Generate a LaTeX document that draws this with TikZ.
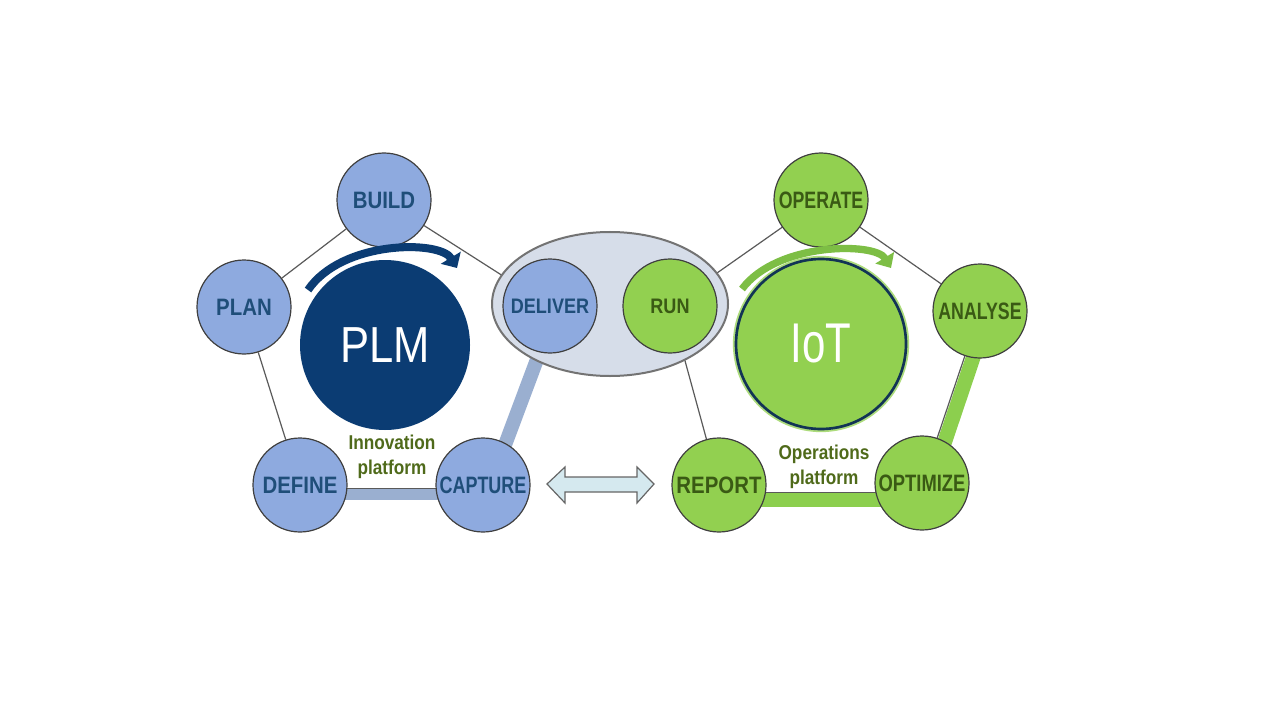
\documentclass[tikz,border=0pt]{standalone}
\usepackage{fontspec}
\setmainfont{Liberation Sans}
\newfontfamily\nar[FakeStretch=0.86]{Liberation Sans}
\usetikzlibrary{shapes.geometric,calc,backgrounds,arrows.meta}
\definecolor{bfill}{HTML}{8EAADF}
\definecolor{btext}{HTML}{1F4E79}
\definecolor{gfill}{HTML}{92D050}
\definecolor{gtext}{HTML}{3A5A14}
\definecolor{olive}{HTML}{4F6A1A}
\definecolor{cline}{HTML}{404040}
\definecolor{lgray}{HTML}{5A5A5A}
\definecolor{navy}{HTML}{0B3C73}
\definecolor{navyd}{HTML}{123455}
\definecolor{bband}{HTML}{9AAFD0}
\definecolor{gband}{HTML}{8CCF4E}
\definecolor{grpfill}{HTML}{D6DDE9}
\definecolor{arrg}{HTML}{7DBE45}
\definecolor{dblfill}{HTML}{D5E9EF}
\begin{document}
\begin{tikzpicture}[x=0.75pt,y=-0.75pt,
  basecirc/.style={circle, draw=cline, line width=0.9pt, minimum size=70.5pt, inner sep=0pt,
    font=\nar\bfseries\fontsize{17.8}{20}\selectfont},
  bcirc/.style={basecirc, fill=bfill, text=btext},
  gcirc/.style={basecirc, fill=gfill, text=gtext},
  smallfont/.style={font=\nar\bfseries\fontsize{15.75}{18}\selectfont},
  thinline/.style={draw=lgray, line width=0.9pt},
  bbandline/.style={draw=bband, line width=9.5pt},
  gbandline/.style={draw=gband, line width=11pt},
  platform/.style={align=center, text=olive, font=\nar\bfseries\fontsize{15}{18.75}\selectfont},
  bigcirc/.style={circle, inner sep=0pt, minimum size=127.5pt, text=white}
]
\useasboundingbox (0,0) rectangle (1280,720);

% group ellipse
\node[ellipse, draw=gray!90!black, line width=1.5pt, fill=grpfill, minimum width=177pt, minimum height=108pt] (grp) at (610,304) {};

% PLM side
\node[bcirc] (build) at (384,200) {BUILD};
\node[bcirc] (plan) at (244,307) {PLAN};
\node[bcirc] (define) at (300,485) {DEFINE};
\node[bcirc] (capture) at (483,485) {\scalebox{0.88}[1]{CAPTURE}};
\node[bcirc, smallfont] (deliver) at (550,306) {DELIVER};
\node[bigcirc, fill=navy, font=\nar\fontsize{38}{40}\selectfont] (plm) at (385,345) {PLM};

% IoT side
\node[gcirc, smallfont] (run) at (670,306) {RUN};
\node[gcirc] (report) at (719,485) {REPORT};
\node[gcirc] (operate) at (821,200) {\scalebox{0.87}[1]{OPERATE}};
\node[gcirc] (analyse) at (980,311) {\scalebox{0.87}[1]{ANALYSE}};
\node[gcirc] (optimize) at (922,483) {\scalebox{0.9}[1]{OPTIMIZE}};
\draw[gfill!75!white, line width=1.6pt] (821,344) circle[radius=65.3pt];
\node[bigcirc, fill=gfill, draw=navyd, line width=2pt, font=\fontsize{42}{44}\selectfont] (iot) at (821,344) {\scalebox{0.75}[1]{IoT}};

% platform labels
\node[platform] (innov) at (392,457) {Innovation\\platform};
\node[platform] (oper) at (824,467) {Operations\\platform};

% connectors on background
\begin{scope}[on background layer]
  \fill[white] (0,0) rectangle (1280,720);
  \draw[thinline] (build) -- (plan);
  \draw[thinline] (build) -- (deliver);
  \draw[thinline] (plan) -- (define);
  \draw[bbandline] ($(define)+(0,9)$) -- ($(capture)+(0,9)$);
  \draw[thinline] ($(define)+(0,3.5)$) -- ($(capture)+(0,3.5)$);
  \draw[bbandline, line width=10.5pt] ($(capture)+(7,0)$) -- ($(deliver)+(7,0)$);
  \draw[thinline] (run) -- (report);
  \draw[thinline] (run) -- (operate);
  \draw[thinline] (operate) -- (analyse);
  \draw[gbandline] ($(analyse)+(8,2.5)$) -- ($(optimize)+(8,2.5)$);
  \draw[thinline] (analyse) -- (optimize);
  \draw[gbandline] ($(report)+(0,14.5)$) -- ($(optimize)+(0,16.5)$);
  \draw[thinline] ($(report)+(0,7.5)$) -- ($(optimize)+(0,9.5)$);
\end{scope}

% cycle arrows
\draw[navy, line width=6pt, -{Triangle[length=9pt 0, width=17pt 0]}]
  (308,290) .. controls (342,240) and (440,240) .. (457,268);
\draw[arrg, line width=5.5pt, -{Triangle[length=9pt 0, width=16pt 0]}]
  (742,289) .. controls (777,242) and (875,242) .. (891,268);

% double block arrow
\filldraw[fill=dblfill, draw=gray!80!black, line width=0.9pt]
  (547,484) -- (565,467) -- (565,477) -- (637,477) -- (637,467) -- (654,484)
  -- (637,503) -- (637,492) -- (565,492) -- (565,503) -- cycle;
\end{tikzpicture}
\end{document}
